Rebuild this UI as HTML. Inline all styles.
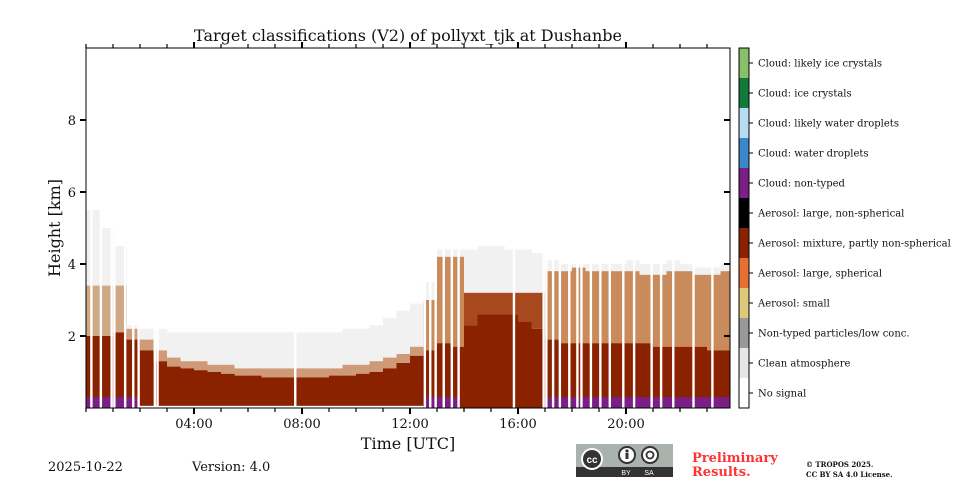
<!DOCTYPE html>
<html><head><meta charset="utf-8">
<style>
body{margin:0;background:#fff;width:960px;height:480px;overflow:hidden;font-family:"DejaVu Serif","Liberation Serif",serif;}
svg text{font-family:"DejaVu Serif","Liberation Serif",serif;fill:#111;}
</style></head>
<body>
<svg id="chart" width="960" height="480" viewBox="0 0 960 480" xmlns="http://www.w3.org/2000/svg">
<text x="408" y="41" font-size="16" text-anchor="middle">Target classifications (V2) of pollyxt_tjk at Dushanbe</text>
<g id="plot"></g>
<g id="axes"></g>
<g id="cbar"></g>
<text transform="translate(60,228) rotate(-90)" font-size="16" text-anchor="middle">Height [km]</text>
<text x="408" y="449" font-size="16" text-anchor="middle">Time [UTC]</text>
<text x="48" y="471" font-size="13">2025-10-22</text>
<text x="192" y="471" font-size="13">Version: 4.0</text>
<g>
<rect x="576" y="444" width="97" height="33" fill="#aab2ad"/>
<rect x="576" y="467" width="97" height="10" fill="#333"/>
<circle cx="592" cy="459" r="11" fill="#fff"/><circle cx="592" cy="459" r="9" fill="#333"/>
<text x="592" y="463" font-size="10" font-weight="bold" text-anchor="middle" style="fill:#fff;font-family:'Liberation Sans',sans-serif">cc</text>
<circle cx="627" cy="455" r="8" fill="#fff" stroke="#333" stroke-width="2"/><circle cx="627" cy="451" r="1.6" fill="#333"/><rect x="625.5" y="453" width="3" height="6" fill="#333"/>
<circle cx="650" cy="455" r="8" fill="#fff" stroke="#333" stroke-width="2"/><circle cx="650" cy="455" r="3.5" fill="none" stroke="#333" stroke-width="1.8"/>
<text x="626" y="475" font-size="7" text-anchor="middle" style="fill:#fff;font-family:'Liberation Sans',sans-serif">BY</text>
<text x="649" y="475" font-size="7" text-anchor="middle" style="fill:#fff;font-family:'Liberation Sans',sans-serif">SA</text>
</g>
<text x="692" y="462" font-size="13" font-weight="bold" style="fill:#ff3333">Preliminary</text>
<text x="692" y="476" font-size="13" font-weight="bold" style="fill:#ff3333">Results.</text>
<text x="806" y="467" font-size="7" font-weight="bold">© TROPOS 2025.</text>
<text x="806" y="477" font-size="7" font-weight="bold">CC BY SA 4.0 License.</text>
</svg>
<script>
// half-hourly layer heights (km), starting 00:00
const maroonTop=[2.0,2.0,2.1,1.9,1.6,1.3,1.15,1.1,1.05,1.0,0.95,0.9,0.9,0.85,0.85,0.85,0.85,0.85,0.9,0.9,0.95,1.0,1.1,1.25,1.45,1.6,1.8,1.7,2.3,2.6,2.6,2.6,2.4,2.2,1.9,1.8,1.8,1.8,1.8,1.8,1.8,1.8,1.7,1.7,1.7,1.7,1.6,1.6];
const mixTop=[3.4,3.4,3.4,2.2,1.9,1.6,1.4,1.3,1.3,1.2,1.2,1.1,1.1,1.1,1.1,1.1,1.1,1.1,1.1,1.2,1.2,1.3,1.4,1.5,1.7,3.0,4.2,4.2,3.2,3.2,3.2,3.2,3.2,3.2,3.8,3.8,3.9,3.8,3.8,3.8,3.8,3.7,3.7,3.8,3.8,3.7,3.7,3.8];
const speckleTop=[5.5,5.0,4.5,2.3,2.2,2.2,2.1,2.1,2.1,2.1,2.1,2.1,2.1,2.1,2.1,2.1,2.1,2.1,2.1,2.2,2.2,2.3,2.5,2.7,2.9,3.5,4.4,4.4,4.4,4.5,4.5,4.4,4.4,4.3,4.1,4.0,4.0,4.0,4.0,4.0,4.1,4.0,4.0,4.1,4.0,3.9,3.9,4.0];
// instrument gaps (hours)
const gapTimes=[0.2,0.55,0.95,1.05,1.45,1.75,1.95,2.55,2.65,7.75,12.55,12.75,12.95,13.25,13.55,13.8,15.85,16.95,17.05,17.3,17.55,17.9,18.2,18.35,18.7,19.05,19.4,19.9,20.3,20.95,21.3,21.75,22.5,23.2];
const purpleRanges=[[0,1.95],[12.5,13.85],[17,23.85]];
const classNames=["Cloud: likely ice crystals","Cloud: ice crystals","Cloud: likely water droplets","Cloud: water droplets","Cloud: non-typed","Aerosol: large, non-spherical","Aerosol: mixture, partly non-spherical","Aerosol: large, spherical","Aerosol: small","Non-typed particles/low conc.","Clean atmosphere","No signal"];
const classColors=["#88bf6a","#137b3a","#b6dcf2","#3a87c9","#7a1f86","#000000","#8a2200","#e86f33","#dcc97a","#999999","#e6e6e6","#ffffff"];
const xTicks=["04:00","08:00","12:00","16:00","20:00"];
const xTickHours=[4,8,12,16,20];
const yTicks=[2,4,6,8];

const X0=86,X1=730,Y0=408,Y1=48;
const xs=h=>X0+h*27;
const ys=k=>Y0-k*36;
const NS="http://www.w3.org/2000/svg";
function mk(tag,attrs,parent){const e=document.createElementNS(NS,tag);for(const k in attrs)e.setAttribute(k,attrs[k]);parent.appendChild(e);return e;}
const plot=document.getElementById('plot'),axes=document.getElementById('axes'),cbar=document.getElementById('cbar');
function mixColor(i){if(i<3)return '#cfa885';if(i<25)return '#cf9a78';if(i>=28&&i<34)return '#a8481e';return '#c98a5c';}
mk('rect',{x:X0,y:Y1,width:X1-X0,height:Y0-Y1,fill:'#fff'},plot);
for(let i=0;i<maroonTop.length;i++){
  const xa=xs(i*0.5),xb=Math.min(xs(i*0.5+0.5),X1),w=xb-xa+0.3;
  if(w<=0)continue;
  let r=mk('rect',{x:xa,y:ys(speckleTop[i]),width:w,height:ys(mixTop[i])-ys(speckleTop[i]),fill:'#f1f1f1'},plot);
  
  
  r=mk('rect',{x:xa,y:ys(mixTop[i]),width:w,height:ys(maroonTop[i])-ys(mixTop[i]),fill:mixColor(i)},plot);
  
  
  r=mk('rect',{x:xa,y:ys(maroonTop[i]),width:w,height:ys(0)-ys(maroonTop[i]),fill:'#8a2200'},plot);
  
  
}
purpleRanges.forEach(p=>{
  const r=mk('rect',{x:xs(p[0]),y:ys(0.3),width:Math.min(xs(p[1]),X1)-xs(p[0]),height:ys(0)-ys(0.3),fill:'#7a1f86'},plot);
  
  
});
mk('rect',{x:xs(1.95),y:ys(0.06),width:xs(12.5)-xs(1.95),height:2,fill:'#fff'},plot);
gapTimes.forEach(g=>{
  const r=mk('rect',{x:xs(g)-1.2,y:Y1,width:2.4,height:Y0-Y1,fill:'#fff'},plot);
  
  
});
// axes frame
mk('rect',{x:X0,y:Y1,width:X1-X0,height:Y0-Y1,fill:'none',stroke:'#000','stroke-width':1},axes);
for(let h=0;h<=23;h++){
  const x=xs(h),major=h%4===0&&h>0;
  mk('line',{x1:x,x2:x,y1:Y0,y2:Y0+(major?6:4),stroke:'#000','stroke-width':major?2:1.2},axes);
  mk('line',{x1:x,x2:x,y1:Y1,y2:Y1-(major?6:4),stroke:'#000','stroke-width':major?2:1.2},axes);
}
xTicks.forEach((t,i)=>{
  const e=mk('text',{x:xs(xTickHours[i]),y:Y0+20,'font-size':13,'text-anchor':'middle'},axes);e.textContent=t;
  
  
});
yTicks.forEach(v=>{
  mk('line',{x1:X0-6,x2:X0,y1:ys(v),y2:ys(v),stroke:'#000','stroke-width':2},axes);
  mk('line',{x1:X1-6,x2:X1,y1:ys(v),y2:ys(v),stroke:'#000','stroke-width':2},axes);
  const e=mk('text',{x:X0-10,y:ys(v)+5,'font-size':13,'text-anchor':'end'},axes);e.textContent=v;
  
  
});
// colorbar
const cbH=(Y0-Y1)/classNames.length;
classNames.forEach((n,i)=>{
  const y=Y1+i*cbH;
  const r=mk('rect',{x:739,y:y,width:10,height:cbH,fill:classColors[i]},cbar);
  
  
  mk('line',{x1:749,x2:753,y1:y+cbH/2,y2:y+cbH/2,stroke:'#000','stroke-width':1},cbar);
  const t=mk('text',{x:758,y:y+cbH/2+3.5,'font-size':10},cbar);t.textContent=n;
  
  
});
mk('rect',{x:739,y:Y1,width:10,height:Y0-Y1,fill:'none',stroke:'#000','stroke-width':1},cbar);
</script>
</body></html>
